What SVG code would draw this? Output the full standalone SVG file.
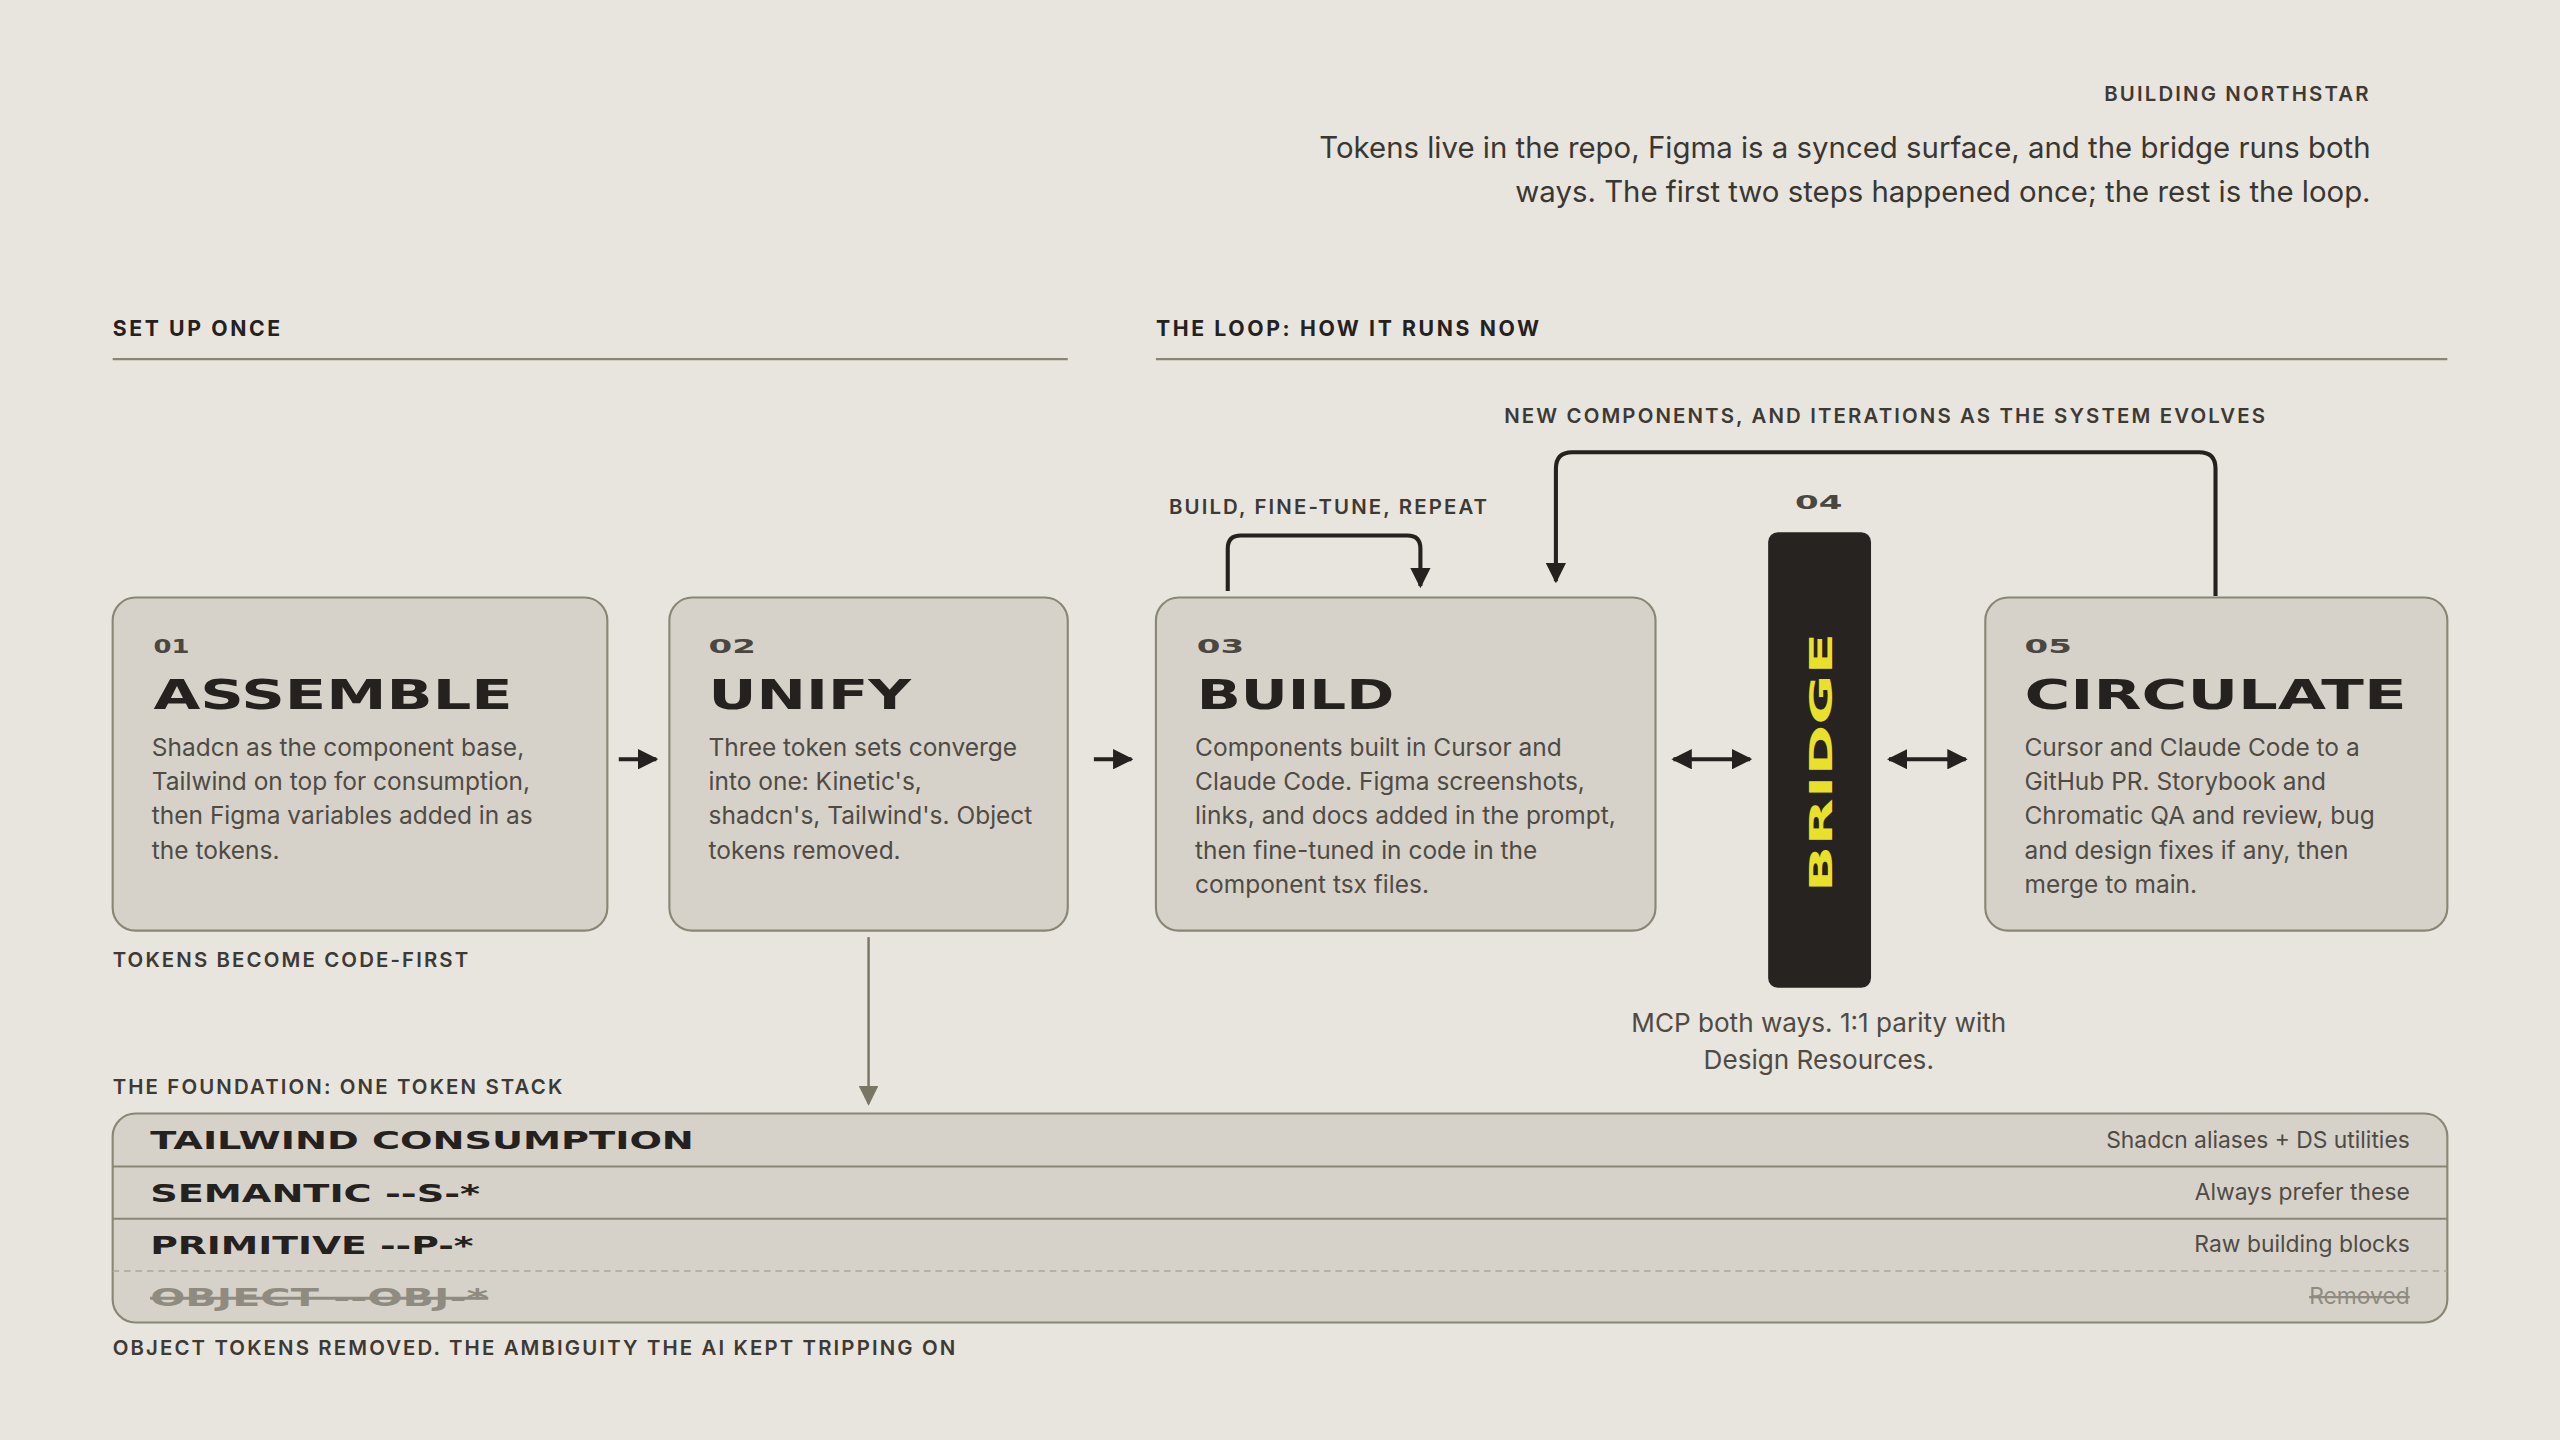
<svg xmlns="http://www.w3.org/2000/svg" width="2560" height="1440" viewBox="0 0 2560 1440">
<defs>
<style>
.lbl{font-family:Inter,"Open Sans",sans-serif;font-weight:600;font-size:12.5px;letter-spacing:1.3px;fill:#3d3934}
.sec{font-family:Inter,"Open Sans",sans-serif;font-weight:700;font-size:13px;letter-spacing:1.6px;fill:#24211e}
.body{font-family:Inter,"Open Sans",sans-serif;font-size:15px;fill:#4f4b44}
.num{font-family:"DejaVu Sans",sans-serif;font-weight:bold;font-size:12px;fill:#4a4640}
.ttl{font-family:"DejaVu Sans",sans-serif;font-weight:bold;font-size:25px;fill:#24211e}
.row{font-family:"DejaVu Sans",sans-serif;font-weight:bold;font-size:15px;fill:#24211e}
.note{font-family:Inter,"Open Sans",sans-serif;font-size:14px;fill:#4f4b44}
.box{fill:#d6d2ca;stroke:#8a8676;stroke-width:1.3}
.cn{fill:none;stroke:#24211e;stroke-width:2.5}
</style>
<marker id="ah" viewBox="0 0 10 10" refX="9" refY="5" markerWidth="5" markerHeight="5" orient="auto-start-reverse"><path d="M0,0L10,5L0,10z" fill="#24211e"/></marker>
<marker id="ahs" viewBox="0 0 10 10" refX="9" refY="5" markerWidth="8" markerHeight="8" orient="auto"><path d="M0,0L10,5L0,10z" fill="#7a7666"/></marker>
</defs>
<rect width="2560" height="1440" fill="#e8e5de"/>
<g transform="scale(1.63265)">
<g id="header">
<text x="1452" y="62" class="lbl" text-anchor="end">BUILDING NORTHSTAR</text>
<text x="1452" y="97" text-anchor="end" style="font-family:Inter,'Open Sans',sans-serif;font-size:18px;fill:#3a3632">Tokens live in the repo, Figma is a synced surface, and the bridge runs both</text>
<text x="1452" y="124" text-anchor="end" style="font-family:Inter,'Open Sans',sans-serif;font-size:18px;fill:#3a3632">ways. The first two steps happened once; the rest is the loop.</text>
<text x="69" y="206" class="sec">SET UP ONCE</text>
<line x1="69" y1="220" x2="654" y2="220" stroke="#8a8676" stroke-width="1.3"/>
<text x="708" y="206" class="sec">THE LOOP: HOW IT RUNS NOW</text>
<line x1="708" y1="220" x2="1499" y2="220" stroke="#8a8676" stroke-width="1.3"/>
<text x="1155" y="259" class="lbl" text-anchor="middle">NEW COMPONENTS, AND ITERATIONS AS THE SYSTEM EVOLVES</text>
<text x="716" y="315" class="lbl">BUILD, FINE-TUNE, REPEAT</text>
<text x="69" y="592" class="lbl">TOKENS BECOME CODE-FIRST</text>
<text x="69" y="670" class="lbl">THE FOUNDATION: ONE TOKEN STACK</text>
<text x="69" y="830" class="lbl">OBJECT TOKENS REMOVED. THE AMBIGUITY THE AI KEPT TRIPPING ON</text>
</g>
<g id="connectors">
<path class="cn" d="M1357,365V287Q1357,277 1347,277H963Q953,277 953,287V356" marker-end="url(#ah)"/>
<path class="cn" stroke-width="2" d="M752,362V336Q752,328 760,328H862Q870,328 870,336V359" marker-end="url(#ah)"/>
<line class="cn" x1="379" y1="465" x2="402" y2="465" stroke-width="3" marker-end="url(#ah)"/>
<line class="cn" x1="670" y1="465" x2="693" y2="465" stroke-width="3" marker-end="url(#ah)"/>
<line class="cn" x1="1025" y1="465" x2="1072" y2="465" stroke-width="3" marker-start="url(#ah)" marker-end="url(#ah)"/>
<line class="cn" x1="1157" y1="465" x2="1204" y2="465" stroke-width="3" marker-start="url(#ah)" marker-end="url(#ah)"/>
<line x1="532" y1="574" x2="532" y2="676" stroke="#7a7666" stroke-width="1.5" marker-end="url(#ahs)"/>
</g>
<g id="n01">
<rect class="box" x="69" y="366" width="303" height="204" rx="14"/>
<text x="94" y="400" class="num" textLength="22" lengthAdjust="spacingAndGlyphs">01</text>
<text x="94" y="434" class="ttl" textLength="220" lengthAdjust="spacingAndGlyphs">ASSEMBLE</text>
<text class="body"><tspan x="93" y="463">Shadcn as the component base,</tspan><tspan x="93" y="484">Tailwind on top for consumption,</tspan><tspan x="93" y="505">then Figma variables added in as</tspan><tspan x="93" y="526">the tokens.</tspan></text>
</g>
<g id="n02">
<rect class="box" x="410" y="366" width="244" height="204" rx="14"/>
<text x="434" y="400" class="num" textLength="29" lengthAdjust="spacingAndGlyphs">02</text>
<text x="434" y="434" class="ttl" textLength="124" lengthAdjust="spacingAndGlyphs">UNIFY</text>
<text class="body"><tspan x="434" y="463">Three token sets converge</tspan><tspan x="434" y="484">into one: Kinetic's,</tspan><tspan x="434" y="505">shadcn's, Tailwind's. Object</tspan><tspan x="434" y="526">tokens removed.</tspan></text>
</g>
<g id="n03">
<rect class="box" x="708" y="366" width="306" height="204" rx="14"/>
<text x="733" y="400" class="num" textLength="29" lengthAdjust="spacingAndGlyphs">03</text>
<text x="733" y="434" class="ttl" textLength="121" lengthAdjust="spacingAndGlyphs">BUILD</text>
<text class="body"><tspan x="732" y="463">Components built in Cursor and</tspan><tspan x="732" y="484">Claude Code. Figma screenshots,</tspan><tspan x="732" y="505">links, and docs added in the prompt,</tspan><tspan x="732" y="526">then fine-tuned in code in the</tspan><tspan x="732" y="547">component tsx files.</tspan></text>
</g>
<g id="n04">
<text x="1114" y="312" class="num" text-anchor="middle" textLength="29" lengthAdjust="spacingAndGlyphs">04</text>
<rect x="1083" y="326" width="63" height="279" rx="6" fill="#262320"/>
<text transform="translate(1122,467) rotate(-90)" text-anchor="middle" style="font-family:'DejaVu Sans',sans-serif;font-weight:bold;font-size:20px;fill:#e8e02a" textLength="159" lengthAdjust="spacingAndGlyphs">BRIDGE</text>
<text x="1114" y="632" text-anchor="middle" style="font-family:Inter,'Open Sans',sans-serif;font-size:16px;fill:#4f4b44">MCP both ways. 1:1 parity with</text>
<text x="1114" y="655" text-anchor="middle" style="font-family:Inter,'Open Sans',sans-serif;font-size:16px;fill:#4f4b44">Design Resources.</text>
</g>
<g id="n05">
<rect class="box" x="1216" y="366" width="283" height="204" rx="14"/>
<text x="1240" y="400" class="num" textLength="29" lengthAdjust="spacingAndGlyphs">05</text>
<text x="1240" y="434" class="ttl" textLength="234" lengthAdjust="spacingAndGlyphs">CIRCULATE</text>
<text class="body"><tspan x="1240" y="463">Cursor and Claude Code to a</tspan><tspan x="1240" y="484">GitHub PR. Storybook and</tspan><tspan x="1240" y="505">Chromatic QA and review, bug</tspan><tspan x="1240" y="526">and design fixes if any, then</tspan><tspan x="1240" y="547">merge to main.</tspan></text>
</g>
<g id="stack">
<rect class="box" x="69" y="682" width="1430" height="128" rx="14"/>
<line x1="69" y1="714.5" x2="1499" y2="714.5" stroke="#8a8676" stroke-width="1.3"/>
<line x1="69" y1="746.5" x2="1499" y2="746.5" stroke="#8a8676" stroke-width="1.3"/>
<line x1="69" y1="778.5" x2="1499" y2="778.5" stroke="#aaa69a" stroke-width="1" stroke-dasharray="4 3"/>
<text x="92" y="704" class="row" textLength="333" lengthAdjust="spacingAndGlyphs">TAILWIND CONSUMPTION</text>
<text x="92" y="736" class="row" textLength="202" lengthAdjust="spacingAndGlyphs">SEMANTIC  --S-*</text>
<text x="92" y="768" class="row" textLength="198" lengthAdjust="spacingAndGlyphs">PRIMITIVE  --P-*</text>
<text x="92" y="800" class="row" style="fill:#8f8b80" text-decoration="line-through" textLength="207" lengthAdjust="spacingAndGlyphs">OBJECT  --OBJ-*</text>
<line x1="92" y1="795" x2="299" y2="795" stroke="#8f8b80" stroke-width="1.5"/>
<text x="1476" y="703" class="note" text-anchor="end">Shadcn aliases + DS utilities</text>
<text x="1476" y="735" class="note" text-anchor="end">Always prefer these</text>
<text x="1476" y="767" class="note" text-anchor="end">Raw building blocks</text>
<text x="1476" y="799" class="note" text-anchor="end" style="fill:#8f8b80" text-decoration="line-through">Removed</text>
</g>
</g>
</svg>
